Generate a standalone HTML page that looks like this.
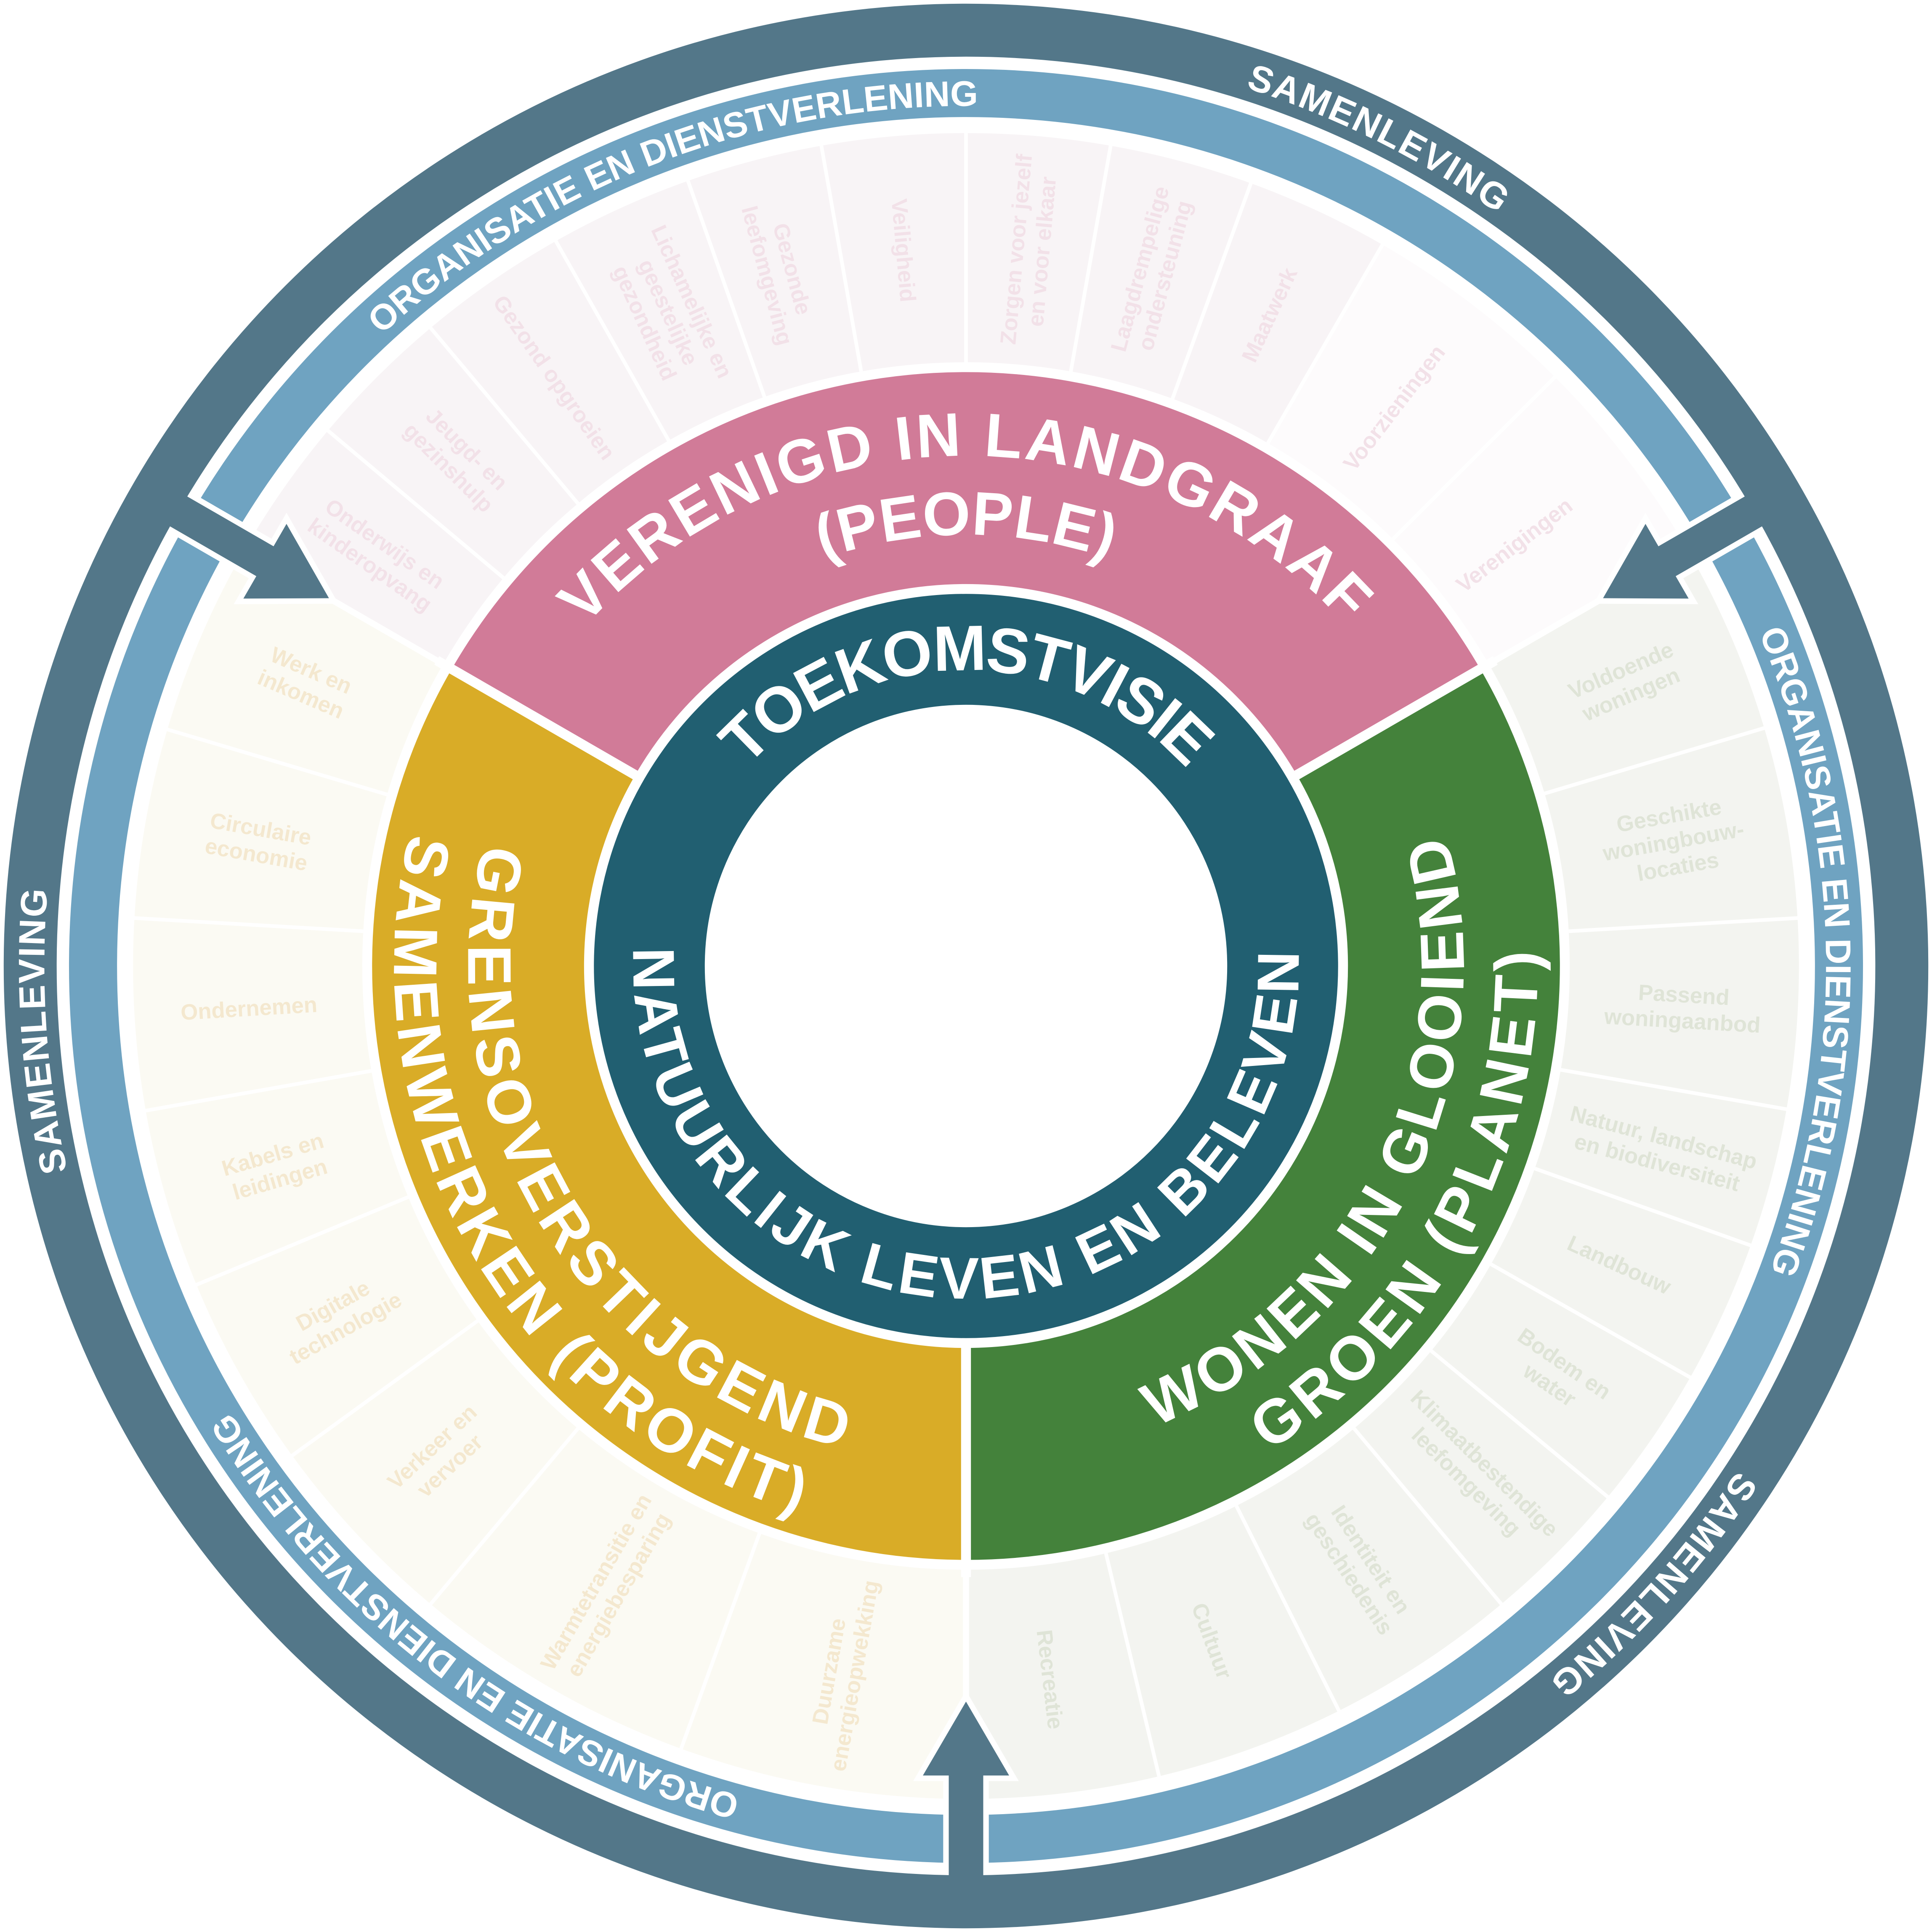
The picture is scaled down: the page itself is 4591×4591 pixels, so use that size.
<!DOCTYPE html>
<html><head><meta charset="utf-8"><style>
html,body{margin:0;padding:0;background:#fff;overflow:hidden;width:4591px;height:4591px;position:relative;}
svg{display:block;position:absolute;left:0;top:0;}
text{font-family:"Liberation Sans",sans-serif;font-weight:bold;}
</style></head><body>
<svg width="4591" height="4591" viewBox="0 0 1568 1568" xmlns="http://www.w3.org/2000/svg" overflow="hidden">
<defs>
<path id="cw240" d="M544,784 a240,240 0 1,1 480,0 a240,240 0 1,1 -480,0"/>
<path id="cw414" d="M370,784 a414,414 0 1,1 828,0 a414,414 0 1,1 -828,0"/>
<path id="cw350" d="M434,784 a350,350 0 1,1 700,0 a350,350 0 1,1 -700,0"/>
<path id="cw698" d="M86,784 a698,698 0 1,1 1396,0 a698,698 0 1,1 -1396,0"/>
<path id="cw748" d="M36,784 a748,748 0 1,1 1496,0 a748,748 0 1,1 -1496,0"/>
<path id="ccw270" d="M514,784 a270,270 0 1,0 540,0 a270,270 0 1,0 -540,0"/>
<path id="ccw404" d="M380,784 a404,404 0 1,0 808,0 a404,404 0 1,0 -808,0"/>
<path id="ccw464" d="M320,784 a464,464 0 1,0 928,0 a464,464 0 1,0 -928,0"/>
</defs>

<g fill="none" stroke-width="186">
<circle cx="784" cy="784" r="583" stroke="#f8f4f6" stroke-dasharray="915.8 4000" transform="rotate(210 784 784)"/>
<circle cx="784" cy="784" r="583" stroke="#fdfbfc" stroke-dasharray="305.3 4000" transform="rotate(300 784 784)"/>
<circle cx="784" cy="784" r="583" stroke="#f3f4f0" stroke-dasharray="1221 4000" transform="rotate(-30 784 784)"/>
<circle cx="784" cy="784" r="583" stroke="#fbfaf3" stroke-dasharray="1221 4000" transform="rotate(90 784 784)"/>
</g>
<g stroke="#fff" stroke-width="3">
<line x1="1274" y1="784" x2="1680" y2="784" transform="rotate(220 784 784)"/>
<line x1="1274" y1="784" x2="1680" y2="784" transform="rotate(230 784 784)"/>
<line x1="1274" y1="784" x2="1680" y2="784" transform="rotate(240.5 784 784)"/>
<line x1="1274" y1="784" x2="1680" y2="784" transform="rotate(250.5 784 784)"/>
<line x1="1274" y1="784" x2="1680" y2="784" transform="rotate(260 784 784)"/>
<line x1="1274" y1="784" x2="1680" y2="784" transform="rotate(270 784 784)"/>
<line x1="1274" y1="784" x2="1680" y2="784" transform="rotate(280 784 784)"/>
<line x1="1274" y1="784" x2="1680" y2="784" transform="rotate(290 784 784)"/>
<line x1="1274" y1="784" x2="1680" y2="784" transform="rotate(300 784 784)"/>
<line x1="1274" y1="784" x2="1680" y2="784" transform="rotate(315 784 784)"/>
<line x1="1274" y1="784" x2="1680" y2="784" transform="rotate(-16.6 784 784)"/>
<line x1="1274" y1="784" x2="1680" y2="784" transform="rotate(-3.3 784 784)"/>
<line x1="1274" y1="784" x2="1680" y2="784" transform="rotate(9.9 784 784)"/>
<line x1="1274" y1="784" x2="1680" y2="784" transform="rotate(19.6 784 784)"/>
<line x1="1274" y1="784" x2="1680" y2="784" transform="rotate(29.6 784 784)"/>
<line x1="1274" y1="784" x2="1680" y2="784" transform="rotate(39.6 784 784)"/>
<line x1="1274" y1="784" x2="1680" y2="784" transform="rotate(50 784 784)"/>
<line x1="1274" y1="784" x2="1680" y2="784" transform="rotate(63.4 784 784)"/>
<line x1="1274" y1="784" x2="1680" y2="784" transform="rotate(76.6 784 784)"/>
<line x1="1274" y1="784" x2="1680" y2="784" transform="rotate(110 784 784)"/>
<line x1="1274" y1="784" x2="1680" y2="784" transform="rotate(130 784 784)"/>
<line x1="1274" y1="784" x2="1680" y2="784" transform="rotate(144 784 784)"/>
<line x1="1274" y1="784" x2="1680" y2="784" transform="rotate(157.5 784 784)"/>
<line x1="1274" y1="784" x2="1680" y2="784" transform="rotate(170 784 784)"/>
<line x1="1274" y1="784" x2="1680" y2="784" transform="rotate(183.3 784 784)"/>
<line x1="1274" y1="784" x2="1680" y2="784" transform="rotate(196.5 784 784)"/>
</g>
<g stroke="#fff" stroke-width="5">
<line x1="1274" y1="784" x2="1680" y2="784" transform="rotate(90 784 784)"/>
<line x1="1274" y1="784" x2="1680" y2="784" transform="rotate(210 784 784)"/>
<line x1="1274" y1="784" x2="1680" y2="784" transform="rotate(330 784 784)"/>
</g>

<g font-size="18" text-anchor="middle" fill="#f2e1e8">
<text transform="rotate(215 784 784) translate(1367 784) rotate(180)"><tspan x="0" dy="-4">Onderwijs en</tspan><tspan x="0" dy="21">kinderopvang</tspan></text>
<text transform="rotate(225 784 784) translate(1367 784) rotate(180)"><tspan x="0" dy="-4">Jeugd- en</tspan><tspan x="0" dy="21">gezinshulp</tspan></text>
<text transform="rotate(235 784 784) translate(1367 784) rotate(180)"><tspan x="0" dy="6">Gezond opgroeien</tspan></text>
<text transform="rotate(245.5 784 784) translate(1367 784) rotate(180)"><tspan x="0" dy="-15">Lichamelijke en</tspan><tspan x="0" dy="21">geestelijke</tspan><tspan x="0" dy="21">gezondheid</tspan></text>
<text transform="rotate(255 784 784) translate(1367 784) rotate(180)"><tspan x="0" dy="-4">Gezonde</tspan><tspan x="0" dy="21">leefomgeving</tspan></text>
<text transform="rotate(265 784 784) translate(1367 784) rotate(180)"><tspan x="0" dy="6">Veiligheid</tspan></text>
<text transform="rotate(275 784 784) translate(1367 784)"><tspan x="0" dy="-4">Zorgen voor jezelf</tspan><tspan x="0" dy="21">en voor elkaar</tspan></text>
<text transform="rotate(285 784 784) translate(1367 784)"><tspan x="0" dy="-4">Laagdrempelige</tspan><tspan x="0" dy="21">ondersteuning</tspan></text>
<text transform="rotate(295 784 784) translate(1367 784)"><tspan x="0" dy="6">Maatwerk</tspan></text>
<text transform="rotate(307.5 784 784) translate(1355 784)"><tspan x="0" dy="6">Voorzieningen</tspan></text>
<text transform="rotate(322.5 784 784) translate(1345 784)"><tspan x="0" dy="6">Verenigingen</tspan></text>
</g>
<g font-size="18" text-anchor="middle" fill="#dfe4d7">
<text transform="rotate(-23.3 784 784) translate(1367 784)"><tspan x="0" dy="-4">Voldoende</tspan><tspan x="0" dy="21">woningen</tspan></text>
<text transform="rotate(-10 784 784) translate(1367 784)"><tspan x="0" dy="-15">Geschikte</tspan><tspan x="0" dy="21">woningbouw-</tspan><tspan x="0" dy="21">locaties</tspan></text>
<text transform="rotate(3.3 784 784) translate(1367 784)"><tspan x="0" dy="-4">Passend</tspan><tspan x="0" dy="21">woningaanbod</tspan></text>
<text transform="rotate(14.8 784 784) translate(1367 784)"><tspan x="0" dy="-4">Natuur, landschap</tspan><tspan x="0" dy="21">en biodiversiteit</tspan></text>
<text transform="rotate(24.6 784 784) translate(1367 784)"><tspan x="0" dy="6">Landbouw</tspan></text>
<text transform="rotate(34.6 784 784) translate(1367 784)"><tspan x="0" dy="-4">Bodem en</tspan><tspan x="0" dy="21">water</tspan></text>
<text transform="rotate(44.8 784 784) translate(1367 784)"><tspan x="0" dy="-4">Klimaatbestendige</tspan><tspan x="0" dy="21">leefomgeving</tspan></text>
<text transform="rotate(56.7 784 784) translate(1367 784)"><tspan x="0" dy="-4">Identiteit en</tspan><tspan x="0" dy="21">geschiedenis</tspan></text>
<text transform="rotate(70 784 784) translate(1367 784)"><tspan x="0" dy="6">Cultuur</tspan></text>
<text transform="rotate(83.3 784 784) translate(1367 784)"><tspan x="0" dy="6">Recreatie</tspan></text>
</g>
<g font-size="18" text-anchor="middle" fill="#f4e8cf">
<text transform="rotate(100 784 784) translate(1367 784) rotate(180)"><tspan x="0" dy="-4">Duurzame</tspan><tspan x="0" dy="21">energieopwekking</tspan></text>
<text transform="rotate(120 784 784) translate(1367 784) rotate(180)"><tspan x="0" dy="-4">Warmtetransitie en</tspan><tspan x="0" dy="21">energiebesparing</tspan></text>
<text transform="rotate(137 784 784) translate(1367 784) rotate(180)"><tspan x="0" dy="-4">Verkeer en</tspan><tspan x="0" dy="21">vervoer</tspan></text>
<text transform="rotate(150.8 784 784) translate(1367 784) rotate(180)"><tspan x="0" dy="-4">Digitale</tspan><tspan x="0" dy="21">technologie</tspan></text>
<text transform="rotate(163.8 784 784) translate(1367 784) rotate(180)"><tspan x="0" dy="-4">Kabels en</tspan><tspan x="0" dy="21">leidingen</tspan></text>
<text transform="rotate(176.6 784 784) translate(1367 784) rotate(180)"><tspan x="0" dy="6">Ondernemen</tspan></text>
<text transform="rotate(190 784 784) translate(1367 784) rotate(180)"><tspan x="0" dy="-4">Circulaire</tspan><tspan x="0" dy="21">economie</tspan></text>
<text transform="rotate(203.3 784 784) translate(1367 784) rotate(180)"><tspan x="0" dy="-4">Werk en</tspan><tspan x="0" dy="21">inkomen</tspan></text>
</g>

<g fill="none" stroke-width="172">
<circle cx="784" cy="784" r="396" stroke="#d17b98" stroke-dasharray="829.4 3000" transform="rotate(210 784 784)"/>
<circle cx="784" cy="784" r="396" stroke="#44823b" stroke-dasharray="829.4 3000" transform="rotate(-30 784 784)"/>
<circle cx="784" cy="784" r="396" stroke="#d9ac27" stroke-dasharray="829.4 3000" transform="rotate(90 784 784)"/>
</g>
<g stroke="#fff" stroke-width="8">
<line x1="1080" y1="784" x2="1280" y2="784" transform="rotate(90 784 784)"/>
<line x1="1080" y1="784" x2="1280" y2="784" transform="rotate(210 784 784)"/>
<line x1="1080" y1="784" x2="1280" y2="784" transform="rotate(330 784 784)"/>
</g>
<circle cx="784" cy="784" r="257" fill="none" stroke="#215f71" stroke-width="90"/>

<g fill="#fff" text-anchor="middle">
<text font-size="52" letter-spacing="-2" transform="rotate(-90 784 784)"><textPath href="#cw240" startOffset="50%">TOEKOMSTVISIE</textPath></text>
<text font-size="48" letter-spacing="3" transform="rotate(90 784 784)"><textPath href="#ccw270" startOffset="50%">NATUURLIJK LEVEN EN BELEVEN</textPath></text>
<text font-size="50" letter-spacing="2" transform="rotate(-90 784 784)"><textPath href="#cw414" startOffset="50%">VERENIGD IN LANDGRAAF</textPath></text>
<text font-size="50" transform="rotate(-90 784 784)"><textPath href="#cw350" startOffset="50%">(PEOPLE)</textPath></text>
<text font-size="50" letter-spacing="3" transform="rotate(26 784 784)"><textPath href="#ccw404" startOffset="50%">WONEN IN GLOOIEND</textPath></text>
<text font-size="50" letter-spacing="4" transform="rotate(28 784 784)"><textPath href="#ccw464" startOffset="50%">GROEN (PLANET)</textPath></text>
<text font-size="50" letter-spacing="4" transform="rotate(149 784 784)"><textPath href="#ccw404" startOffset="50%">GRENSOVERSTIJGEND</textPath></text>
<text font-size="50" letter-spacing="3.5" transform="rotate(150 784 784)"><textPath href="#ccw464" startOffset="50%">SAMENWERKEN (PROFIT)</textPath></text>
</g>

<circle cx="784" cy="784" r="708.5" fill="none" stroke="#6fa3c1" stroke-width="39"/>

<g fill="#537789" stroke="#fff" stroke-width="9" stroke-linejoin="miter" paint-order="stroke">
<path d="M784,1381 L819,1441 L798,1441 L798,1548 L770,1548 L770,1441 L749,1441 Z"/>
<path d="M784,1381 L819,1441 L798,1441 L798,1548 L770,1548 L770,1441 L749,1441 Z" transform="rotate(120 784 784)"/>
<path d="M784,1381 L819,1441 L798,1441 L798,1548 L770,1548 L770,1441 L749,1441 Z" transform="rotate(240 784 784)"/>
</g>

<circle cx="784" cy="784" r="759.5" fill="none" stroke="#537789" stroke-width="43"/>

<g fill="#fff" text-anchor="middle">
<text font-size="29" transform="rotate(-111 784 784)"><textPath href="#cw698" startOffset="50%">ORGANISATIE EN DIENSTVERLENING</textPath></text>
<text font-size="29" transform="rotate(-1 784 784)"><textPath href="#cw698" startOffset="50%">ORGANISATIE EN DIENSTVERLENING</textPath></text>
<text font-size="29" transform="rotate(127 784 784)"><textPath href="#cw698" startOffset="50%">ORGANISATIE EN DIENSTVERLENING</textPath></text>
<text font-size="30" letter-spacing="1" transform="rotate(-63.5 784 784)"><textPath href="#cw748" startOffset="50%">SAMENLEVING</textPath></text>
<text font-size="30" letter-spacing="1" transform="rotate(42 784 784)"><textPath href="#cw748" startOffset="50%">SAMENLEVING</textPath></text>
<text font-size="30" letter-spacing="1" transform="rotate(176 784 784)"><textPath href="#cw748" startOffset="50%">SAMENLEVING</textPath></text>
</g>
</svg>
</body></html>
